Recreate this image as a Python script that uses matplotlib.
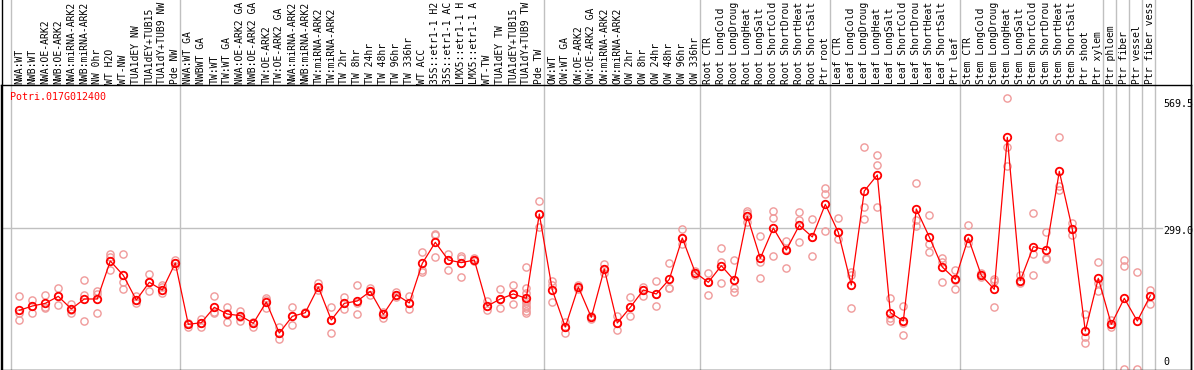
import matplotlib
matplotlib.use("Agg")
from matplotlib import pyplot as plt
from matplotlib.lines import Line2D

gene = "Potri.017G012400"

# sample names, as far as they show in the label strip (14 characters)
labels = [
    "NWA:WT", "NWB:WT", "NWA:OE-ARK2", "NWB:OE-ARK2", "NWA:miRNA-ARK2", "NWB:miRNA-ARK2",
    "NW 0hr", "WT H2O", "WT-NW", "TUA1dEY NW", "TUA1dEY+TUB15", "TUA1dY+TUB9 NW", "Pde NW",
    "NWA:WT GA", "NWBWT GA", "TW:WT", "TW:WT GA", "NWA:OE-ARK2 GA", "NWB:OE-ARK2 GA",
    "TW:OE-ARK2", "TW:OE-ARK2 GA", "NWA:miRNA-ARK2", "NWB:miRNA-ARK2", "TW:miRNA-ARK2",
    "TW:miRNA-ARK2", "TW 2hr", "TW 8hr", "TW 24hr", "TW 48hr", "TW 96hr", "TW 336hr", "WT ACC",
    "35S::etr1-1 H2", "35S::etr1-1 AC", "LMX5::etr1-1 H", "LMX5::etr1-1 A", "WT-TW",
    "TUA1dEY TW", "TUA1dEY+TUB15", "TUA1dY+TUB9 TW", "Pde TW",
    "OW:WT", "OW:WT GA", "OW:OE-ARK2", "OW:OE-ARK2 GA", "OW:miRNA-ARK2", "OW:miRNA-ARK2",
    "OW 2hr", "OW 8hr", "OW 24hr", "OW 48hr", "OW 96hr", "OW 336hr",
    "Root CTR", "Root LongCold", "Root LongDroug", "Root LongHeat", "Root LongSalt",
    "Root ShortCold", "Root ShortDrou", "Root ShortHeat", "Root ShortSalt", "Ptr root",
    "Leaf CTR", "Leaf LongCold", "Leaf LongDroug", "Leaf LongHeat", "Leaf LongSalt",
    "Leaf ShortCold", "Leaf ShortDrou", "Leaf ShortHeat", "Leaf ShortSalt", "Ptr leaf",
    "Stem CTR", "Stem LongCold", "Stem LongDroug", "Stem LongHeat", "Stem LongSalt",
    "Stem ShortCold", "Stem ShortDrou", "Stem ShortHeat", "Stem ShortSalt", "Ptr shoot",
    "Ptr xylem", "Ptr phloem", "Ptr fiber", "Ptr vessel", "Ptr fiber vess",
]

means = [
    128.3, 137.3, 142.9, 157.4, 131.1, 151.9, 151.9, 231.0, 201.1, 149.8, 186.6, 170.6, 226.8,
    99.2, 102.6, 134.6, 120.7, 117.2, 101.3, 145.6, 81.1, 115.8, 123.4, 176.9, 108.2, 142.9,
    147.7, 167.8, 120.0, 160.9, 143.6, 226.1, 269.8, 233.0, 227.5, 233.0, 137.3, 151.9, 162.3,
    153.3, 328.8,
    170.6, 93.6, 176.9, 113.7, 214.3, 102.0, 134.6, 170.6, 162.3, 192.8, 278.8, 206.7,
    186.6, 221.2, 190.7, 323.9, 236.5, 299.6, 253.8, 305.2, 280.9, 348.9,
    290.6, 181.0, 376.6, 409.9, 123.4, 106.1, 339.2, 280.9, 218.5, 192.8,
    278.8, 201.1, 172.0, 488.3, 190.0, 260.8, 253.8, 417.5, 297.5, 85.3, 194.9,
    99.2, 153.3, 106.1, 158.8,
]

reps = [
    [157.5, 123.5, 108.2], [149.8, 137.3, 122.1], [160.2, 134.6, 132.5], [174.1, 157.5, 139.4],
    [140.8, 129.0, 123.5], [190.7, 160.2, 106.1], [168.6, 162.3, 122.8], [245.6, 240.0, 212.3],
    [245.6, 186.6, 172.0], [158.8, 149.8, 142.9], [203.9, 186.6, 168.6], [181.0, 177.6, 163.7],
    [233.1, 226.8, 220.6],
    [101.3, 99.2, 92.9], [109.6, 102.7, 94.3], [157.5, 125.6, 123.5], [134.6, 122.1, 103.4],
    [126.9, 115.1, 106.1], [104.7, 101.3, 94.3], [154.7, 149.8, 132.5], [94.3, 81.2, 68.0],
    [134.6, 115.8, 97.1], [125.6, 123.5, 122.1], [185.9, 176.9, 170.6], [134.6, 108.2, 81.2],
    [155.4, 142.9, 131.1], [181.0, 142.9, 120.7], [174.8, 168.6, 160.2], [125.6, 120.0, 113.1],
    [167.2, 160.9, 156.8], [157.5, 143.6, 130.4], [249.0, 212.3, 208.8], [286.5, 284.4, 239.3],
    [245.6, 233.1, 211.6], [242.1, 237.9, 197.0], [237.9, 233.1, 231.7], [148.4, 137.3, 129.0],
    [172.0, 151.9, 132.5], [181.0, 162.3, 142.2],
    [217.8, 174.1, 163.7, 148.4, 142.9, 137.3, 132.5, 127.6, 122.1],
    [355.8, 328.8, 302.4],
    [189.4, 180.3, 145.6], [104.7, 93.6, 81.2], [181.0, 176.9, 172.7], [117.2, 113.8, 109.6],
    [224.0, 214.3, 206.7], [116.5, 102.0, 87.4], [155.4, 134.6, 115.8], [177.6, 170.6, 158.1],
    [189.4, 162.3, 137.3], [226.8, 175.5, 174.1], [296.9, 278.8, 265.7], [210.9, 206.7, 201.8],
    [206.0, 186.6, 160.2], [257.3, 228.2, 184.5], [233.1, 174.1, 165.8], [335.7, 330.2, 312.8],
    [283.0, 229.6, 194.9], [335.0, 319.8, 241.4], [273.3, 255.2, 215.7], [332.9, 316.3, 271.2],
    [318.4, 280.9, 241.4], [383.6, 369.7, 293.4],
    [319.8, 290.6, 276.1], [208.8, 201.8, 132.5], [467.5, 343.3, 317.7], [451.5, 430.7, 342.6],
    [153.3, 111.7, 106.8], [137.3, 101.3, 76.3], [392.6, 316.3, 303.8], [326.0, 265.7, 249.0],
    [237.9, 229.6, 186.6], [212.3, 191.4, 173.4],
    [305.2, 278.8, 267.7], [205.3, 201.1, 198.4], [193.5, 190.1, 134.6], [569.5, 468.9, 429.3],
    [201.8, 190.1, 184.5], [330.2, 244.9, 201.8], [291.3, 236.5, 234.4], [488.3, 387.0, 378.7],
    [309.4, 297.6, 284.4], [120.7, 73.5, 59.7], [228.2, 184.5, 169.3],
    [108.2, 99.2, 92.9], [233.1, 220.6, 6.2], [208.1, 6.2], [170.6, 158.8, 140.8],
]

# first sample of each group (vertical separators)
group_starts = [0, 13, 41, 53, 63, 73, 84, 85, 86, 87, 88]
axis_labels = [("569.5", 569.5, -6), ("299.0", 299.0, -3), ("0", 0, 10)]

W, H = 1194, 370
fig = plt.figure(figsize=(W / 100, H / 100), dpi=100)
ax = fig.add_axes([1 / W, 0.5 / H, 1190 / W, 284.5 / H])
ax.set_xlim((1 - 19.3) / 13, (1191 - 19.3) / 13)
ax.set_ylim((372 - 369.5) / 0.4806, (372 - 85) / 0.4806)
ax.set_xticks([])
ax.set_yticks([])
for s in ax.spines.values():
    s.set_color("black")
    s.set_linewidth(1.0)

grey = "#c0c0c0"
top_y = 1 + 85 / 284.5
for k in group_starts:
    ax.plot([k - 0.65, k - 0.65], [0, top_y], transform=ax.get_xaxis_transform(),
            color=grey, lw=1.0, clip_on=False, zorder=1)
ax.plot([(1 - 19.3) / 13, (1162 - 19.3) / 13], [299, 299], color=grey, lw=1.0, zorder=1)

# left / right border through the label strip
for xf in [1.5 / W, 1191 / W]:
    fig.add_artist(Line2D([xf, xf], [0, 1], color="black", lw=1.0))

x = list(range(len(labels)))
for i, r in enumerate(reps):
    ax.plot([i] * len(r), r, linestyle="none", marker="o", ms=5.2, mew=1.0,
            mfc="none", mec="#f09a9a", zorder=2)
ax.plot(x, means, color="red", lw=0.9, marker="o", ms=5.4, mew=1.3,
        mfc="none", mec="red", zorder=3)

mono = "DejaVu Sans Mono"
for i, lab in enumerate(labels):
    ax.text(i, 1.005, lab, transform=ax.get_xaxis_transform(), rotation=90,
            ha="center", va="bottom", fontsize=7.0, family=mono, clip_on=False)

fig.text(10 / W, 1 - 97 / H, gene, color="red", fontsize=7.2, family=mono,
         ha="left", va="center")

for txt, v, off in axis_labels:
    ax.annotate(txt, xy=((1163 - 19.3) / 13, v), xytext=(0, off * 0.72),
                textcoords="offset points", ha="left", va="center",
                fontsize=7.2, family=mono, annotation_clip=False)

fig.savefig("out.png", dpi=100)
